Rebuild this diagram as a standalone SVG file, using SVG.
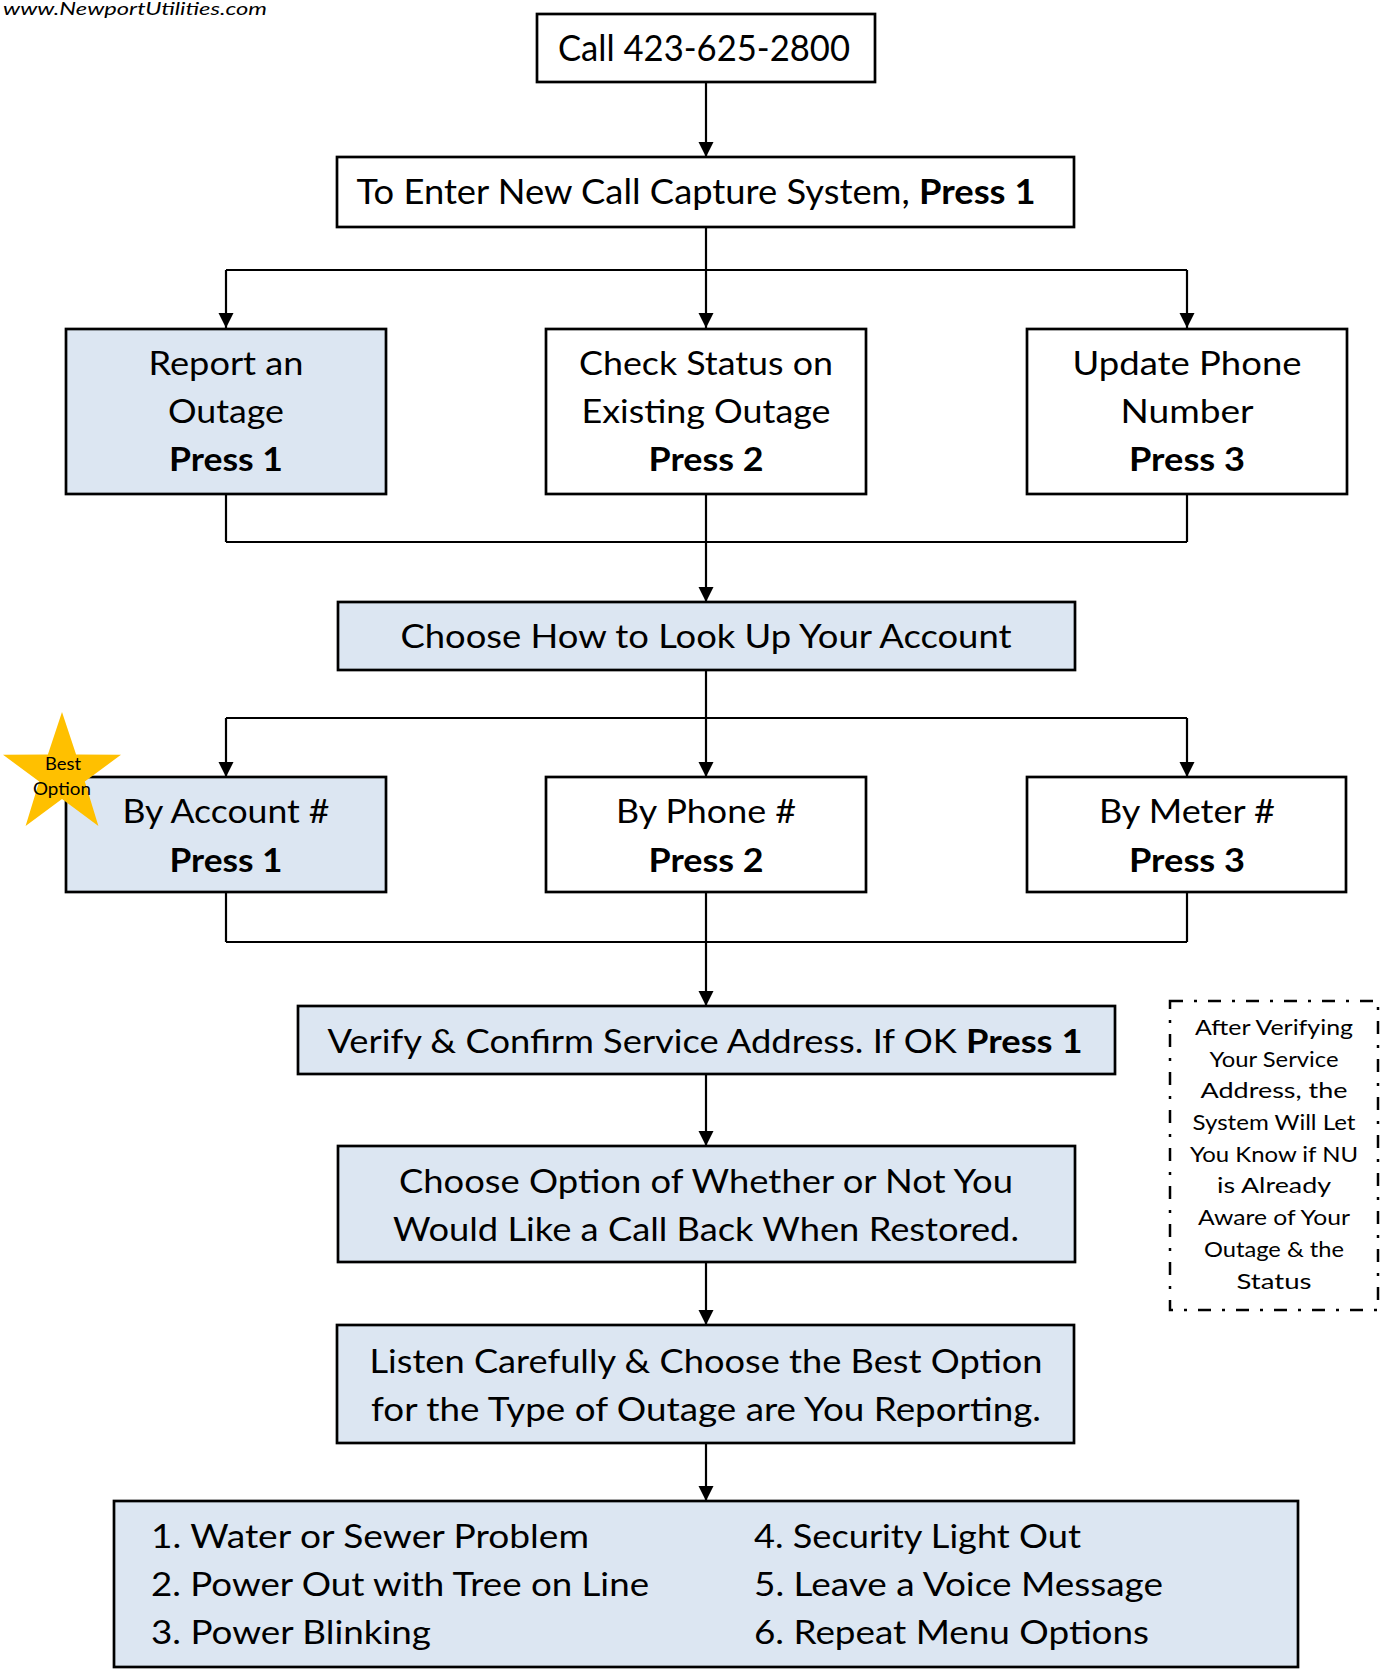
<svg xmlns="http://www.w3.org/2000/svg" width="1383" height="1672" viewBox="0 0 1383 1672">
<defs>
<style>
.box{fill:#ffffff;stroke:#000;stroke-width:2.7}
.blue{fill:#DCE6F2}
.t{font-family:Lato,'Liberation Sans',sans-serif;fill:#000}
.c{text-anchor:middle}
.b{font-weight:bold}
.ln{stroke:#000;stroke-width:2.2;fill:none}
.arr{marker-end:url(#ah)}
.dash{fill:none;stroke:#000;stroke-width:2.5;stroke-dasharray:13 11 3 11}
</style>
<marker id="ah" markerUnits="userSpaceOnUse" markerWidth="16" markerHeight="16" refX="15" refY="7.5" orient="auto">
<path d="M0,0 L15,7.5 L0,15 Z" fill="#000"/>
</marker>
</defs>
<rect width="1383" height="1672" fill="#fff"/>

<text class="t" x="3" y="15" font-size="17" font-style="italic" textLength="264" lengthAdjust="spacingAndGlyphs" fill="#222">www.NewportUtilities.com</text>

<g id="connectors">
<line class="ln arr" x1="706" y1="82" x2="706" y2="157"/>
<line class="ln" x1="706" y1="227" x2="706" y2="270"/>
<line class="ln" x1="226" y1="270" x2="1187" y2="270"/>
<line class="ln arr" x1="226" y1="270" x2="226" y2="328"/>
<line class="ln arr" x1="706" y1="270" x2="706" y2="328"/>
<line class="ln arr" x1="1187" y1="270" x2="1187" y2="328"/>
<line class="ln" x1="226" y1="494" x2="226" y2="542"/>
<line class="ln" x1="1187" y1="494" x2="1187" y2="542"/>
<line class="ln" x1="226" y1="542" x2="1187" y2="542"/>
<line class="ln arr" x1="706" y1="494" x2="706" y2="602"/>
<line class="ln" x1="706" y1="670" x2="706" y2="718"/>
<line class="ln" x1="226" y1="718" x2="1187" y2="718"/>
<line class="ln arr" x1="226" y1="718" x2="226" y2="777"/>
<line class="ln arr" x1="706" y1="718" x2="706" y2="777"/>
<line class="ln arr" x1="1187" y1="718" x2="1187" y2="777"/>
<line class="ln" x1="226" y1="892" x2="226" y2="942"/>
<line class="ln" x1="1187" y1="892" x2="1187" y2="942"/>
<line class="ln" x1="226" y1="942" x2="1187" y2="942"/>
<line class="ln arr" x1="706" y1="892" x2="706" y2="1006"/>
<line class="ln arr" x1="706" y1="1074" x2="706" y2="1146"/>
<line class="ln arr" x1="706" y1="1262" x2="706" y2="1325"/>
<line class="ln arr" x1="706" y1="1443" x2="706" y2="1501"/>
</g>

<g id="call">
<rect class="box" x="537" y="14" width="338" height="68"/>
<text class="t c" x="704" y="61" font-size="36" textLength="292" lengthAdjust="spacingAndGlyphs">Call 423-625-2800</text>
</g>

<g id="enter">
<rect class="box" x="337" y="157" width="737" height="70"/>
<text class="t c" x="696" y="204" font-size="34" textLength="679" lengthAdjust="spacingAndGlyphs">To Enter New Call Capture System, <tspan class="b">Press 1</tspan></text>
</g>

<g id="report">
<rect class="box blue" x="66" y="329" width="320" height="165"/>
<text class="t c" x="226" y="375" font-size="33" textLength="155" lengthAdjust="spacingAndGlyphs">Report an</text>
<text class="t c" x="226" y="423" font-size="33" textLength="116" lengthAdjust="spacingAndGlyphs">Outage</text>
<text class="t c b" x="226" y="471" font-size="33" textLength="114" lengthAdjust="spacingAndGlyphs">Press 1</text>
</g>

<g id="check">
<rect class="box" x="546" y="329" width="320" height="165"/>
<text class="t c" x="706" y="375" font-size="33" textLength="254" lengthAdjust="spacingAndGlyphs">Check Status on</text>
<text class="t c" x="706" y="423" font-size="33" textLength="249" lengthAdjust="spacingAndGlyphs">Existing Outage</text>
<text class="t c b" x="706" y="471" font-size="33" textLength="115" lengthAdjust="spacingAndGlyphs">Press 2</text>
</g>

<g id="update">
<rect class="box" x="1027" y="329" width="320" height="165"/>
<text class="t c" x="1187" y="375" font-size="33" textLength="229" lengthAdjust="spacingAndGlyphs">Update Phone</text>
<text class="t c" x="1187" y="423" font-size="33" textLength="133" lengthAdjust="spacingAndGlyphs">Number</text>
<text class="t c b" x="1187" y="471" font-size="33" textLength="116" lengthAdjust="spacingAndGlyphs">Press 3</text>
</g>

<g id="lookup">
<rect class="box blue" x="338" y="602" width="737" height="68"/>
<text class="t c" x="706" y="648" font-size="33" textLength="611" lengthAdjust="spacingAndGlyphs">Choose How to Look Up Your Account</text>
</g>

<g id="byaccount">
<rect class="box blue" x="66" y="777" width="320" height="115"/>
<text class="t c" x="226" y="823" font-size="33" textLength="207" lengthAdjust="spacingAndGlyphs">By Account #</text>
<text class="t c b" x="226" y="872" font-size="33" textLength="113" lengthAdjust="spacingAndGlyphs">Press 1</text>
</g>

<g id="star">
<path d="M62,712 L76.1,754.6 L121,754.8 L84.8,781.4 L98.4,826 L62,799 L25.6,826 L39.2,781.4 L3,754.8 L47.9,754.6 Z" fill="#FFC000"/>
<text class="t c" x="63" y="770" font-size="17" textLength="36" lengthAdjust="spacingAndGlyphs">Best</text>
<text class="t c" x="62" y="795" font-size="17" textLength="58" lengthAdjust="spacingAndGlyphs">Option</text>
</g>

<g id="byphone">
<rect class="box" x="546" y="777" width="320" height="115"/>
<text class="t c" x="706" y="823" font-size="33" textLength="180" lengthAdjust="spacingAndGlyphs">By Phone #</text>
<text class="t c b" x="706" y="872" font-size="33" textLength="115" lengthAdjust="spacingAndGlyphs">Press 2</text>
</g>

<g id="bymeter">
<rect class="box" x="1027" y="777" width="319" height="115"/>
<text class="t c" x="1187" y="823" font-size="33" textLength="176" lengthAdjust="spacingAndGlyphs">By Meter #</text>
<text class="t c b" x="1187" y="872" font-size="33" textLength="116" lengthAdjust="spacingAndGlyphs">Press 3</text>
</g>

<g id="verify">
<rect class="box blue" x="298" y="1006" width="817" height="68"/>
<text class="t c" x="705" y="1053" font-size="33" textLength="755" lengthAdjust="spacingAndGlyphs">Verify &amp; Confirm Service Address. If OK <tspan class="b">Press 1</tspan></text>
</g>

<g id="callback">
<rect class="box blue" x="338" y="1146" width="737" height="116"/>
<text class="t c" x="706" y="1193" font-size="33" textLength="614" lengthAdjust="spacingAndGlyphs">Choose Option of Whether or Not You</text>
<text class="t c" x="706" y="1241" font-size="33" textLength="626" lengthAdjust="spacingAndGlyphs">Would Like a Call Back When Restored.</text>
</g>

<g id="listen">
<rect class="box blue" x="337" y="1325" width="737" height="118"/>
<text class="t c" x="706" y="1373" font-size="33" textLength="673" lengthAdjust="spacingAndGlyphs">Listen Carefully &amp; Choose the Best Option</text>
<text class="t c" x="706" y="1421" font-size="33" textLength="670" lengthAdjust="spacingAndGlyphs">for the Type of Outage are You Reporting.</text>
</g>

<g id="options">
<rect class="box blue" x="114" y="1501" width="1184" height="166"/>
<text class="t" x="151" y="1548" font-size="33" textLength="438" lengthAdjust="spacingAndGlyphs">1. Water or Sewer Problem</text>
<text class="t" x="151" y="1596" font-size="33" textLength="498" lengthAdjust="spacingAndGlyphs">2. Power Out with Tree on Line</text>
<text class="t" x="151" y="1644" font-size="33" textLength="280" lengthAdjust="spacingAndGlyphs">3. Power Blinking</text>
<text class="t" x="754" y="1548" font-size="33" textLength="327" lengthAdjust="spacingAndGlyphs">4. Security Light Out</text>
<text class="t" x="754" y="1596" font-size="33" textLength="409" lengthAdjust="spacingAndGlyphs">5. Leave a Voice Message</text>
<text class="t" x="754" y="1644" font-size="33" textLength="395" lengthAdjust="spacingAndGlyphs">6. Repeat Menu Options</text>
</g>

<g id="note">
<rect class="dash" x="1170" y="1001" width="208" height="309"/>
<text class="t c" x="1274" y="1035" font-size="22" textLength="158" lengthAdjust="spacingAndGlyphs">After Verifying</text>
<text class="t c" x="1274" y="1067" font-size="22" textLength="129" lengthAdjust="spacingAndGlyphs">Your Service</text>
<text class="t c" x="1274" y="1098" font-size="22" textLength="147" lengthAdjust="spacingAndGlyphs">Address, the</text>
<text class="t c" x="1274" y="1130" font-size="22" textLength="163" lengthAdjust="spacingAndGlyphs">System Will Let</text>
<text class="t c" x="1274" y="1162" font-size="22" textLength="168" lengthAdjust="spacingAndGlyphs">You Know if NU</text>
<text class="t c" x="1274" y="1193" font-size="22" textLength="114" lengthAdjust="spacingAndGlyphs">is Already</text>
<text class="t c" x="1274" y="1225" font-size="22" textLength="152" lengthAdjust="spacingAndGlyphs">Aware of Your</text>
<text class="t c" x="1274" y="1257" font-size="22" textLength="140" lengthAdjust="spacingAndGlyphs">Outage &amp; the</text>
<text class="t c" x="1274" y="1289" font-size="22" textLength="75" lengthAdjust="spacingAndGlyphs">Status</text>
</g>
</svg>
